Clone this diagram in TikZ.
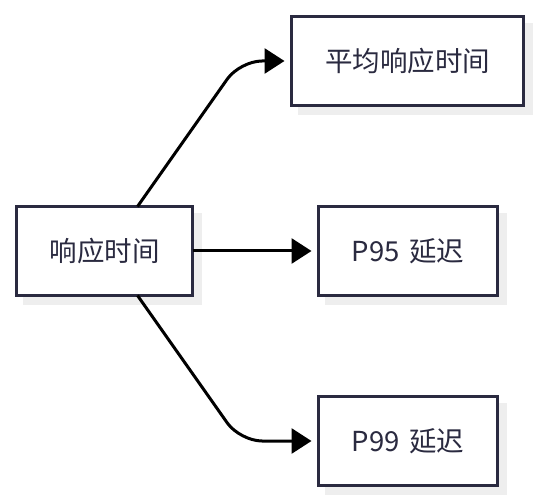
\documentclass[tikz,border=0pt]{standalone}
\usepackage{fontspec}
\setmainfont{Noto Sans}
\newfontfamily\cjk{Noto Sans CJK SC}
\usetikzlibrary{arrows.meta,calc}
\definecolor{boxline}{HTML}{2A2A40}
\definecolor{shadowc}{HTML}{EEEEEE}
\tikzset{
  box/.style={draw=boxline, line width=3pt, fill=white, text=boxline,
    font=\cjk\fontsize{27.5}{32}\selectfont, inner sep=0pt, outer sep=0pt,
    minimum height=89pt},
  arr/.style={line width=3pt, -{Triangle[length=20pt,width=25pt]}}
}
\begin{document}
\begin{tikzpicture}[x=1pt,y=-1pt]
\useasboundingbox (0,0) rectangle (540,502);
% shadows
\fill[shadowc] (23,213) rectangle (202,305);
\fill[shadowc] (298,23) rectangle (533,115);
\fill[shadowc] (325,213) rectangle (507,305);
\fill[shadowc] (325,403) rectangle (507,495);
% nodes
\node[box, minimum width=176pt] (L) at (104.5,251) {响应时间};
\node[box, minimum width=232pt] (T) at (407.5,61) {平均响应时间};
\node[box, minimum width=179pt] (M) at (408,251) {P95\hspace{0.35em}延迟};
\node[box, minimum width=179pt] (B) at (408,441) {P99\hspace{0.35em}延迟};
\coordinate (bend) at (240,0);
% connectors
\draw[arr, rounded corners=22pt] ($(L.north)+(33,0)$) -- (T.west -| bend) -- ($(T.west)+(-7,0)$);
\draw[arr] (L.east) -- ($(M.west)+(-7,0)$);
\draw[arr, rounded corners=22pt] ($(L.south)+(33,0)$) -- (B.west -| bend) -- ($(B.west)+(-7,0)$);
\end{tikzpicture}
\end{document}
